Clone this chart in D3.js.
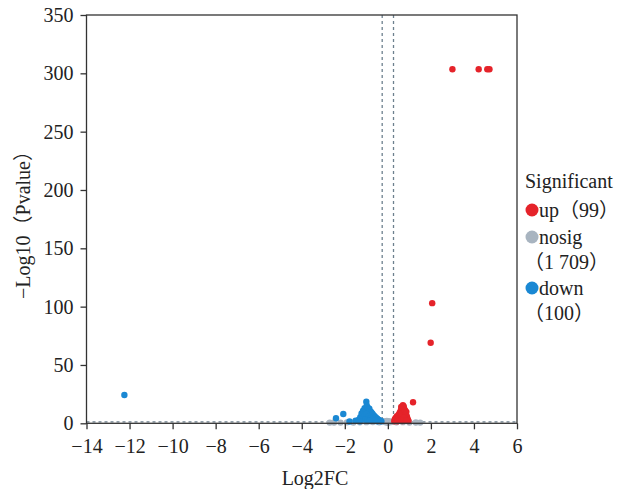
<!DOCTYPE html>
<html>
<head>
<meta charset="utf-8">
<script src="https://cdn.jsdelivr.net/npm/d3@7"></script>
<style>
  html, body { margin: 0; padding: 0; background: #fff; }
  svg text { font-family: "Liberation Serif", "Noto Sans CJK SC", serif; fill: #222; text-spacing-trim: space-all; }
  svg tspan.cjk { font-family: "Noto Sans CJK SC", sans-serif; font-feature-settings: "halt" 0, "chws" 0, "palt" 0; }
</style>
</head>
<body>
<svg id="chart" width="630" height="489"></svg>
<script>
// Volcano plot: log2 fold change vs -log10(p)
const xTicks = [-14, -12, -10, -8, -6, -4, -2, 0, 2, 4, 6];
const yTicks = [0, 50, 100, 150, 200, 250, 300, 350];

const fcCut = 0.263;   // log2(1.2)
const pCut = 1.3;      // -log10(0.05)

// significantly up-regulated
const upFC = [3.0, 4.22, 4.62, 4.72, 2.06, 1.99, 1.17,
  0.30, 0.32, 0.36, 0.40, 0.42, 0.46, 0.50, 0.52, 0.55, 0.58, 0.60, 0.63, 0.66,
  0.70, 0.72, 0.75, 0.78, 0.80, 0.83, 0.86, 0.88, 0.90, 0.93, 0.96, 0.55, 0.65,
  0.75, 0.68, 0.45, 0.85, 0.62, 0.74];
const upP = [303.5, 303.5, 303.5, 303.5, 103, 69.1, 18.0,
  1.8, 3.2, 4.5, 2.6, 6.0, 4.0, 7.4, 5.2, 9.0, 6.5, 11.0, 8.2, 13.0,
  15.5, 10.8, 12.6, 9.2, 11.2, 7.5, 9.8, 6.0, 4.5, 3.0, 2.0, 2.2, 3.5,
  4.8, 2.0, 1.8, 2.2, 14.0, 14.5];

// not significant
const nosigFC = [-2.7, -2.5, -2.2, -1.9, -1.6, -1.3, -1.0, -0.7, -0.4, -0.2, -0.1,
  0.0, 0.1, 0.2, 0.4, 0.7, 1.0, 1.3, 1.5, -0.05, 0.05, 0.15, -0.15];
const nosigP = [0.6, 0.7, 0.6, 0.8, 0.6, 0.9, 1.0, 1.1, 0.9, 1.5, 0.8,
  0.5, 1.0, 1.4, 0.8, 1.0, 0.7, 0.7, 0.6, 2.0, 1.8, 1.2, 1.6];

// significantly down-regulated
const downFC = [-12.24, -2.41, -2.07, -1.78, -1.50, -1.35, -1.28, -1.22, -1.15, -1.08,
  -1.00, -0.98, -0.93, -0.90, -0.86, -0.82, -0.78, -0.74, -0.70, -0.66, -0.62,
  -0.58, -0.54, -0.50, -0.46, -0.42, -0.38, -0.34, -0.30, -1.10, -1.00, -0.90,
  -0.80, -0.70, -0.60, -1.20, -1.05, -0.95, -0.85, -0.50, -1.30];
const downP = [24.3, 4.3, 8.0, 1.6, 2.2, 3.0, 5.2, 8.4, 10.8, 13.0,
  18.5, 15.2, 13.4, 11.5, 12.6, 10.2, 9.8, 8.6, 7.9, 6.8, 6.1,
  5.2, 4.6, 3.9, 3.4, 2.9, 2.4, 2.0, 1.7, 6.5, 8.0, 5.5,
  4.2, 3.0, 2.2, 3.5, 3.0, 2.5, 2.0, 1.8, 1.8];

const groups = [
  { key: "nosig", fc: nosigFC, p: nosigP, color: "#a8b4c0" },
  { key: "down",  fc: downFC,  p: downP,  color: "#1a88d3" },
  { key: "up",    fc: upFC,    p: upP,    color: "#e5232a" }
];

const legendItems = [
  { color: "#e5232a", lines: ["up（99）"] },
  { color: "#a8b4c0", lines: ["nosig", "（1 709）"] },
  { color: "#1a88d3", lines: ["down", "（100）"] }
];

const svg = d3.select("#chart");
const plotL = 86.5, plotR = 517, plotT = 15, plotB = 423.3;

const x = d3.scaleLinear().domain([-14, 6]).range([plotL, plotR]);
const y = d3.scaleLinear().domain([0, 350]).range([plotB, plotT]);

// writes a label, setting full-width brackets in the CJK face and
// keeping each bracket a full em wide
function richText(sel, str, fs) {
  const parts = str.split(/([（）])/).filter(s => s.length);
  const spans = parts.map(part => {
    const t = sel.append("tspan").text(part);
    if (part === "（" || part === "）") t.attr("class", "cjk");
    return t;
  });
  parts.forEach((part, i) => {
    if (part !== "（" && part !== "）") return;
    const w = spans[i].node().getComputedTextLength();
    const pad = Math.max(0, fs - w);
    if (pad < 0.5) return;
    if (part === "（") spans[i].attr("dx", pad);
    else if (i + 1 < spans.length) spans[i + 1].attr("dx", pad);
  });
  return sel;
}

// threshold guides
const guide = svg.append("g")
  .attr("stroke", "#6d808e").attr("stroke-width", 1.3)
  .attr("stroke-dasharray", "3,3").attr("fill", "none");
[-fcCut, fcCut].forEach(v => {
  guide.append("line")
    .attr("x1", x(v)).attr("x2", x(v))
    .attr("y1", y(350)).attr("y2", y(0));
});
guide.append("line")
  .attr("x1", x(-14)).attr("x2", x(6))
  .attr("y1", y(pCut)).attr("y2", y(pCut));

// points
groups.forEach(g => {
  svg.append("g").selectAll("circle")
    .data(g.fc.map((v, i) => [v, g.p[i]]))
    .join("circle")
    .attr("cx", d => x(d[0]))
    .attr("cy", d => y(d[1]))
    .attr("r", 3.2)
    .attr("fill", g.color);
});

// frame
svg.append("rect")
  .attr("x", plotL).attr("y", plotT)
  .attr("width", plotR - plotL).attr("height", plotB - plotT)
  .attr("fill", "none").attr("stroke", "#333").attr("stroke-width", 1.3);

// axes
const xAxis = svg.append("g")
  .attr("transform", `translate(0,${plotB})`)
  .call(d3.axisBottom(x).tickValues(xTicks).tickSize(6).tickPadding(9.5).tickFormat(d3.format("d")));
const yAxis = svg.append("g")
  .attr("transform", `translate(${plotL},0)`)
  .call(d3.axisLeft(y).tickValues(yTicks).tickSize(6).tickPadding(7).tickFormat(d3.format("d")));

[xAxis, yAxis].forEach(a => {
  a.select(".domain").remove();
  a.selectAll(".tick line").attr("stroke", "#333").attr("stroke-width", 1.3);
  a.selectAll(".tick text")
    .attr("font-family", "Liberation Serif, serif")
    .attr("font-size", 20).attr("fill", "#222");
});

// axis titles
svg.append("text")
  .attr("x", 315).attr("y", 485)
  .attr("text-anchor", "middle").attr("font-size", 20)
  .text("Log2FC");
richText(svg.append("text")
  .attr("transform", "translate(30,220) rotate(-90)")
  .attr("text-anchor", "middle").attr("font-size", 20), "−Log10（Pvalue）", 20);

// legend
const lg = svg.append("g");
lg.append("text").attr("x", 525).attr("y", 188).attr("font-size", 20).text("Significant");
const rowY = [210, 237, 288];
legendItems.forEach((it, i) => {
  lg.append("circle").attr("cx", 532).attr("cy", rowY[i]).attr("r", 6.5).attr("fill", it.color);
  it.lines.forEach((t, j) => {
    richText(lg.append("text")
      .attr("x", j === 0 ? 539 : 524)
      .attr("y", rowY[i] + 6.5 + j * 25)
      .attr("font-size", 20), t, 20);
  });
});
</script>
</body>
</html>
